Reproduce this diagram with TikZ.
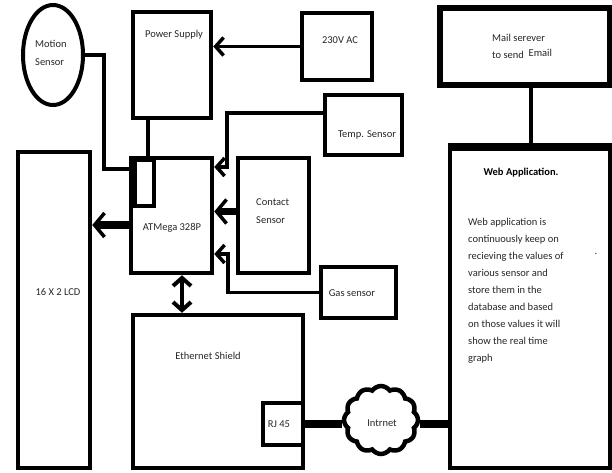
\documentclass[tikz,border=0pt]{standalone}
\usepackage{fontspec}
\setmainfont{Carlito}
\usepackage{tikz}
\usetikzlibrary{arrows.meta, positioning, shapes.geometric, shapes.symbols, calc}

\begin{document}
\begin{tikzpicture}[x=1pt, y=-1pt,
    font=\fontsize{10.5}{12}\selectfont,
    box/.style={draw, line width=4.5pt, rectangle, inner sep=0pt},
    lbl/.style={inner sep=0pt, text=black!85},
    wire/.style={line width=3.5pt},
    arr/.style={line width=3.5pt, -{Straight Barb[length=8pt, width=18pt]}},
    fat/.style={line width=7.5pt, -{Straight Barb[length=10pt, width=24pt, line width=3.5pt]}},
    fatline/.style={line width=7.5pt}]
  \useasboundingbox (0,0) rectangle (612,472);

  % Sensors and supply
  \node[draw, line width=4pt, ellipse, minimum width=60pt, minimum height=100pt,
        inner sep=0pt] (mot) at (53,55) {};
  \node[box, minimum width=78pt, minimum height=106pt] (ps) at (172,65) {};
  \node[box, minimum width=70pt, minimum height=67pt] (ac) at (337,46.5) {};
  \node[box, minimum width=77pt, minimum height=60pt] (temp) at (363.5,125) {};
  \node[box, minimum width=71pt, minimum height=115pt] (con) at (273.5,215.5) {};
  \node[box, minimum width=75pt, minimum height=51pt] (gas) at (358.5,292.5) {};

  % Controller, display, network
  \node[box, minimum width=81pt, minimum height=115pt] (atm) at (171.5,215.5) {};
  \node[draw, line width=3.5pt, minimum width=19pt, minimum height=46pt,
        inner sep=0pt] (chip) at (144.5,183) {};
  \node[box, minimum width=72pt, minimum height=316pt] (lcd) at (54,310) {};
  \node[box, minimum width=170pt, minimum height=153pt] (eth) at (218,391.5) {};
  \node[box, fill=white, minimum width=40pt, minimum height=42pt] (rj) at (283,424) {};
  \node[draw, line width=4.5pt, cloud, cloud puffs=12, cloud puff arc=110, aspect=1.1,
        minimum width=74pt, minimum height=68pt, inner sep=0pt] (net) at (381,420) {};

  % Server side
  \node[box, line width=5.5pt, minimum width=170pt, minimum height=77pt] (mail) at (525,46.5) {};
  \node[box, minimum width=160pt, minimum height=319pt] (web) at (530,308.5) {};
  \draw[line width=8pt] (web.north west) -- (web.north east);

  % Labels
  \node[lbl, align=left, anchor=west, font=\fontsize{10.5}{18}\selectfont] (mot-t) at (35,53) {Motion\\Sensor};
  \node[lbl] (ps-t) at (174,35) {Power Supply};
  \node[lbl] (ac-t) at (340,40) {230V AC};
  \node[lbl] (temp-t) at (367,135) {Temp. Sensor};
  \node[lbl] (atm-t) at (172,228) {ATMega 328P};
  \node[lbl, align=left, anchor=west, font=\fontsize{10.5}{18}\selectfont] (con-t) at (256,211) {Contact\\Sensor};
  \node[lbl] (gas-t) at (352,293) {Gas sensor};
  \node[lbl] (lcd-t) at (58,292) {16 X 2 LCD};
  \node[lbl] (eth-t) at (208,356) {Ethernet Shield};
  \node[lbl] (rj-t) at (279,424) {RJ 45};
  \node[lbl] (net-t) at (382,423) {Intrnet};
  \node[lbl, align=left, anchor=west, font=\fontsize{10.5}{17}\selectfont] (mail-t) at (492,46)
    {Mail serever\\to send\ \ \raisebox{2pt}{Email}};
  \node[lbl, text=black, font=\fontsize{10.5}{12}\selectfont\bfseries] (web-t) at (521,173) {Web Application.};
  \node[lbl, align=left, anchor=north west, font=\fontsize{10.5}{17}\selectfont] (web-p) at (468,218)
    {Web application is\\continuously keep on\\recieving the values of\\various sensor and\\
     store them in the\\database and based\\on those values it will\\show the real time\\graph};
  \node[lbl] (dot) at (596,254) {.};

  % Joints
  \coordinate (mjoin) at (104,169);
  \coordinate (tjoin) at (227,167);
  \coordinate (gjoin) at (228,254);

  % Connectors
  \draw[wire] (mot.east) -| (mjoin) -- (mjoin -| atm.west);
  \draw[arr] (ac.west) -- (ac.west -| ps.east);
  \draw[wire] ([xshift=3.5pt]chip.north) -- ([xshift=3.5pt]chip.north |- ps.south);
  \draw[arr] ([yshift=12pt]temp.west) -| (tjoin) -- (tjoin -| atm.east);
  \draw[fat] ([yshift=4pt]con.west) -- ([yshift=4pt]con.west -| atm.east);
  \draw[arr] (gas.west) -| (gjoin) -- (gjoin -| atm.east);
  \draw[fat] ([yshift=-9.5pt]atm.west) -- ([yshift=-9.5pt]atm.west -| lcd.east);
  \draw[line width=4pt, {Straight Barb[length=8pt, width=18pt]}-{Straight Barb[length=8pt, width=18pt]}]
    ([xshift=10.5pt]atm.south) -- ([xshift=10.5pt]atm.south |- eth.north);
  \draw[fatline] (rj.east) -- (rj.east -| net.west);
  \draw[fatline] (rj.east -| net.east) -- (rj.east -| web.west);
  \draw[wire] ([xshift=6pt]mail.south) -- ([xshift=6pt]mail.south |- web.north);

\end{tikzpicture}
\end{document}
